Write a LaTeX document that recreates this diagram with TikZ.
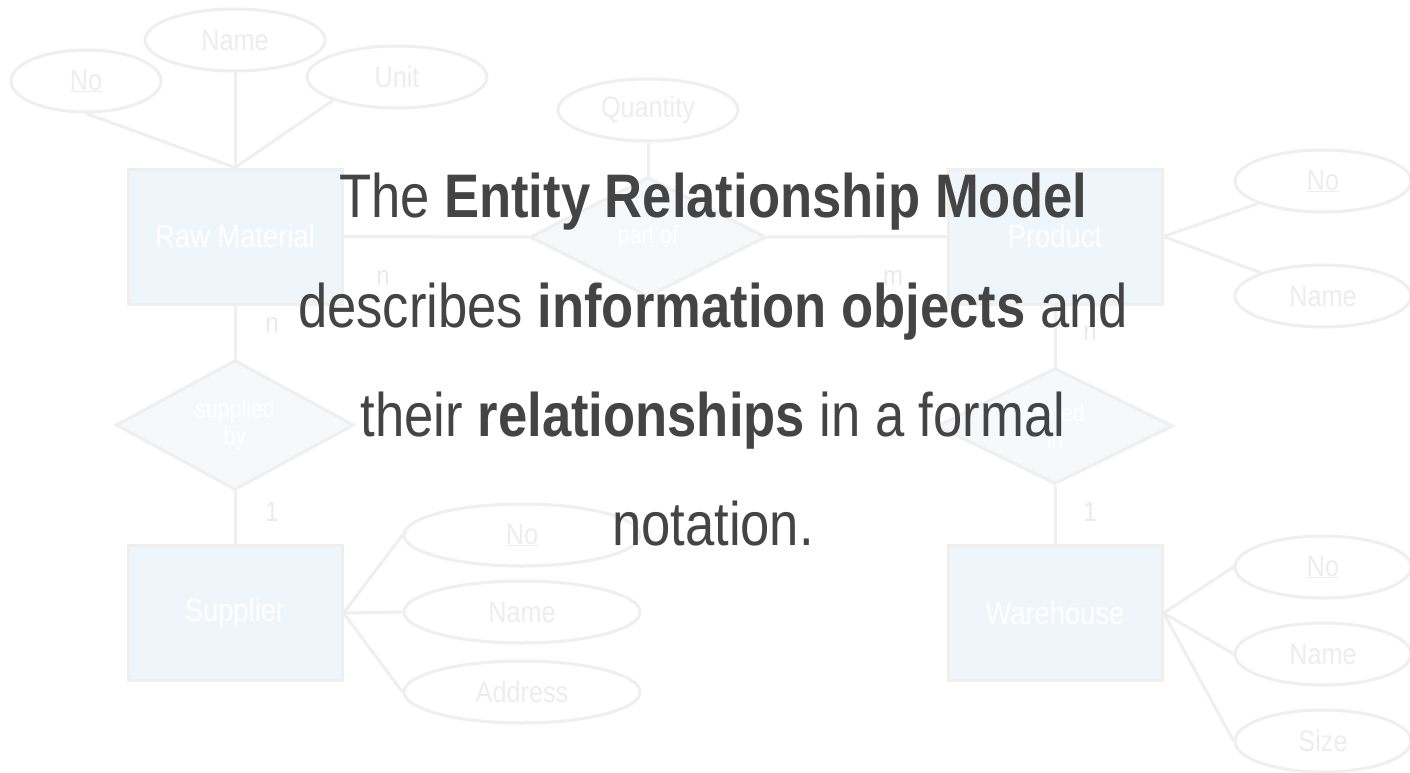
\documentclass[tikz,border=0pt]{standalone}
\usepackage{fontspec}
\usetikzlibrary{shapes.geometric}
\setmainfont[FakeStretch=0.855]{Liberation Sans}
\definecolor{linec}{HTML}{EFEFEF}
\definecolor{entfill}{HTML}{EEF6FC}
\definecolor{relfill}{HTML}{F7F8FA}
\definecolor{attrtext}{HTML}{EDEDED}
\definecolor{cardtext}{HTML}{EAEAEA}
\definecolor{maintext}{HTML}{444444}
\begin{document}
\begin{tikzpicture}[x=1pt,y=-1pt,
  entity/.style={rectangle, draw=linec, fill=entfill, line width=3pt,
    minimum width=214pt, minimum height=135pt, inner sep=0pt, text=white,
    font=\fontsize{32}{36}\selectfont},
  rel/.style={diamond, draw=linec, fill=relfill, line width=3pt, inner sep=0pt,
    text=white, align=center, font=\fontsize{25}{27}\selectfont},
  attr/.style={ellipse, draw=linec, fill=white, line width=3pt, minimum height=62pt,
    inner sep=0pt, text=attrtext, font=\fontsize{29.5}{32}\selectfont},
  card/.style={text=cardtext, inner sep=0pt, font=\fontsize{28}{30}\selectfont},
  conn/.style={draw=linec, line width=3pt},
  headline/.style={text=maintext, anchor=base, inner sep=0pt,
    font=\fontsize{61.5}{70}\selectfont}]
\useasboundingbox (0,0) rectangle (1410,773);
\fill[white] (0,0) rectangle (1410,773);

% entities
\node[entity] (raw) at (235,236.5) {Raw Material};
\node[entity] (prod) at (1055,236.5) {Product};
\node[entity] (sup) at (235,613) {Supplier};
\node[entity] (wh) at (1055,613) {Warehouse};

% relationships
\node[rel, minimum width=236pt, minimum height=120pt] (partof) at (648,237) {part of};
\node[rel, minimum width=238pt, minimum height=120pt] (supby) at (235,425) {supplied\\by};
\node[rel, minimum width=236pt, minimum height=116pt] (stored) at (1055,426) {stored\\in};

% attributes
\node[attr, minimum width=150pt] (rno) at (86,81) {\underline{No}};
\node[attr, minimum width=180pt] (rname) at (235,40) {Name};
\node[attr, minimum width=180pt] (runit) at (397,77) {Unit};
\node[attr, minimum width=180pt] (qty) at (648,110) {Quantity};
\node[attr, minimum width=176pt] (pno) at (1323,181) {\underline{No}};
\node[attr, minimum width=176pt] (pname) at (1323,296) {Name};
\node[attr, minimum width=236pt] (sno) at (522,535) {\underline{No}};
\node[attr, minimum width=236pt] (sname) at (522,612) {Name};
\node[attr, minimum width=236pt] (saddr) at (522,692) {Address};
\node[attr, minimum width=176pt] (wno) at (1323,567) {\underline{No}};
\node[attr, minimum width=176pt] (wname) at (1323,654) {Name};
\node[attr, minimum width=176pt] (wsize) at (1323,741) {Size};

% connectors
\begin{scope}[on background layer/.style={}]
\end{scope}
\draw[conn] (rno.south) -- (raw.north);
\draw[conn] (rname.south) -- (raw.north);
\draw[conn] (runit.200) -- (raw.north);
\draw[conn] (qty.south) -- (partof.north);
\draw[conn] (raw.east) -- (partof.west);
\draw[conn] (partof.east) -- (prod.west);
\draw[conn] (prod.east) -- (pno);
\draw[conn] (prod.east) -- (pname);
\draw[conn] (raw.south) -- (supby.north);
\draw[conn] (supby.south) -- (sup.north);
\draw[conn] (prod.south) -- (stored.north);
\draw[conn] (stored.south) -- (wh.north);
\draw[conn] (sup.east) -- (sno.west);
\draw[conn] (sup.east) -- (sname.west);
\draw[conn] (sup.east) -- (saddr.west);
\draw[conn] (wh.east) -- (wno.west);
\draw[conn] (wh.east) -- (wname.west);
\draw[conn] (wh.east) -- (wsize.west);

% cardinalities
\node[card] (c1) at (383,278) {n};
\node[card] (c2) at (893,278) {m};
\node[card] (c3) at (272,325) {n};
\node[card] (c4) at (272,512) {1};
\node[card] (c5) at (1090,333) {n};
\node[card] (c6) at (1090,512) {1};

% headline text
\node[headline] (t1) at (713,217) {The \textbf{Entity Relationship Model}};
\node[headline] (t2) at (713,327) {describes \textbf{information objects} and};
\node[headline] (t3) at (713,436) {their \textbf{relationships} in a formal};
\node[headline] (t4) at (713,545) {notation.};
\end{tikzpicture}
\end{document}
